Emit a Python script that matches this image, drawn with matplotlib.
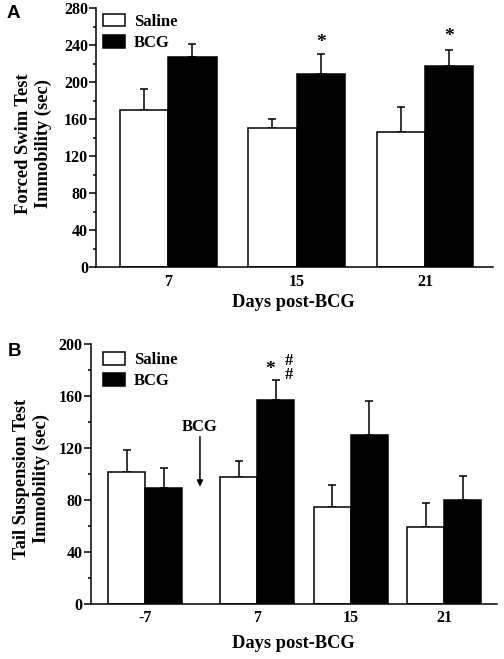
import matplotlib
matplotlib.use("Agg")
import matplotlib.pyplot as plt
import numpy as np
from matplotlib.ticker import MultipleLocator

# ---- Panel A data (Forced Swim Test) ----
a_days = ["7", "15", "21"]
a_saline = [170.5, 150.3, 146.7]
a_saline_err = [21.9, 10.1, 26.6]
a_bcg = [227.4, 208.6, 217.3]
a_bcg_err = [14.4, 21.7, 17.3]

# ---- Panel B data (Tail Suspension Test) ----
b_days = ["-7", "7", "15", "21"]
b_pos = [0.0, 1.2, 2.2, 3.2]
b_saline = [101.5, 97.4, 74.6, 58.9]
b_saline_err = [17.0, 12.4, 16.7, 18.7]
b_bcg = [89.5, 157.3, 130.1, 80.0]
b_bcg_err = [15.4, 15.5, 25.9, 18.7]

plt.rcParams['font.family'] = ['Liberation Serif', 'DejaVu Serif']
plt.rcParams['font.weight'] = 'bold'

fig = plt.figure(figsize=(5.04, 6.59), dpi=100)

FS = 13.3     # axis labels
LFS = 12.0    # legend / annotations
TFS = 11.5    # tick labels
SFS = 14.0    # significance stars
LW = 1.1


def style(ax):
    for s in ['top', 'right']:
        ax.spines[s].set_visible(False)
    for s in ['left', 'bottom']:
        ax.spines[s].set_linewidth(LW)
    ax.tick_params(axis='y', which='major', length=4.8, width=LW, pad=1.0, labelsize=TFS)
    ax.tick_params(axis='y', which='minor', length=2.5, width=LW)
    ax.tick_params(axis='x', which='both', length=0, pad=4.5, labelsize=TFS)
    for lab in ax.get_xticklabels() + ax.get_yticklabels():
        lab.set_fontweight('bold')


def panel(ax, pos, sal, sal_err, bcg, bcg_err, w, anchor):
    pos = np.asarray(pos)
    ax.bar(pos - w / 2, sal, w, color='white', edgecolor='black', linewidth=LW,
           label='Saline', zorder=2)
    ax.bar(pos + w / 2, bcg, w, color='black', edgecolor='black', linewidth=LW,
           label='BCG', zorder=2)
    ax.errorbar(pos - w / 2, sal, yerr=[np.zeros(len(sal)), sal_err], fmt='none',
                ecolor='black', elinewidth=LW, capsize=2.8, capthick=LW, zorder=1)
    ax.errorbar(pos + w / 2, bcg, yerr=[np.zeros(len(bcg)), bcg_err], fmt='none',
                ecolor='black', elinewidth=LW, capsize=2.8, capthick=LW, zorder=1)
    leg = ax.legend(loc='upper left', frameon=False, fontsize=LFS,
                    handlelength=1.3, handleheight=0.8, labelspacing=0.3,
                    handletextpad=0.55, borderaxespad=0.0, borderpad=0.0,
                    bbox_to_anchor=anchor)
    for h in leg.legend_handles:
        h.set_linewidth(LW)


# ---- Panel A ----
axA = fig.add_axes([96 / 504, 1 - 267.3 / 659, 397 / 504, 259 / 659])
wA = 0.377
xA = np.arange(len(a_days))
panel(axA, xA, a_saline, a_saline_err, a_bcg, a_bcg_err, wA, (0.018, 0.979))
axA.set_xlim(-0.563, 2.53)
axA.set_ylim(0, 280)
axA.yaxis.set_major_locator(MultipleLocator(40))
axA.yaxis.set_minor_locator(MultipleLocator(20))
axA.set_xticks(xA)
axA.set_xticklabels(a_days)
style(axA)
axA.set_ylabel('Forced Swim Test\nImmobility (sec)', fontsize=FS, fontweight='bold',
               linespacing=1.2)
axA.yaxis.set_label_coords(-0.111, 0.478)
axA.set_xlabel('Days post-BCG', fontsize=FS, fontweight='bold')
axA.xaxis.set_label_coords(0.496, -0.105)
axA.xaxis.label.set_va('top')
axA.text(1 + wA / 2, 243, '*', ha='center', va='center', fontsize=SFS, fontweight='bold')
axA.text(2 + wA / 2, 249.5, '*', ha='center', va='center', fontsize=SFS, fontweight='bold')

# ---- Panel B ----
axB = fig.add_axes([90.7 / 504, 1 - 603.7 / 659, 406 / 504, 259.4 / 659])
wB = 0.396
panel(axB, b_pos, b_saline, b_saline_err, b_bcg, b_bcg_err, wB, (0.030, 0.970))
axB.set_xlim(-0.584, 3.76)
axB.set_ylim(0, 200)
axB.yaxis.set_major_locator(MultipleLocator(40))
axB.yaxis.set_minor_locator(MultipleLocator(20))
axB.set_xticks(b_pos)
axB.set_xticklabels(b_days)
style(axB)
axB.set_ylabel('Tail Suspension Test\nImmobility (sec)', fontsize=FS, fontweight='bold',
               linespacing=1.2)
axB.yaxis.set_label_coords(-0.100, 0.481)
axB.set_xlabel('Days post-BCG', fontsize=FS, fontweight='bold')
axB.xaxis.set_label_coords(0.498, -0.119)
axB.xaxis.label.set_va('top')
axB.text(b_pos[1] + wB / 2 - 0.066, 180.5, '*', ha='center', va='center', fontsize=SFS,
         fontweight='bold')
axB.text(b_pos[1] + wB / 2 + 0.142, 181.8, '#\n#', ha='center', va='center', fontsize=LFS,
         fontweight='bold', linespacing=0.9)
axB.text(0.585, 136.5, 'BCG', ha='center', va='center', fontsize=LFS, fontweight='bold')
axB.annotate('', xy=(0.585, 90.2), xytext=(0.585, 128.8),
             arrowprops=dict(arrowstyle='-|>', color='black', lw=LW,
                             mutation_scale=9, shrinkA=0, shrinkB=0))

# Panel letters
fig.text(7 / 504, 1 - 5 / 659, 'A', family='Liberation Sans', fontweight='bold',
         fontsize=13.5, ha='left', va='top')
fig.text(8 / 504, 1 - 343 / 659, 'B', family='Liberation Sans', fontweight='bold',
         fontsize=13.5, ha='left', va='top')

fig.savefig('out.png', dpi=100)
